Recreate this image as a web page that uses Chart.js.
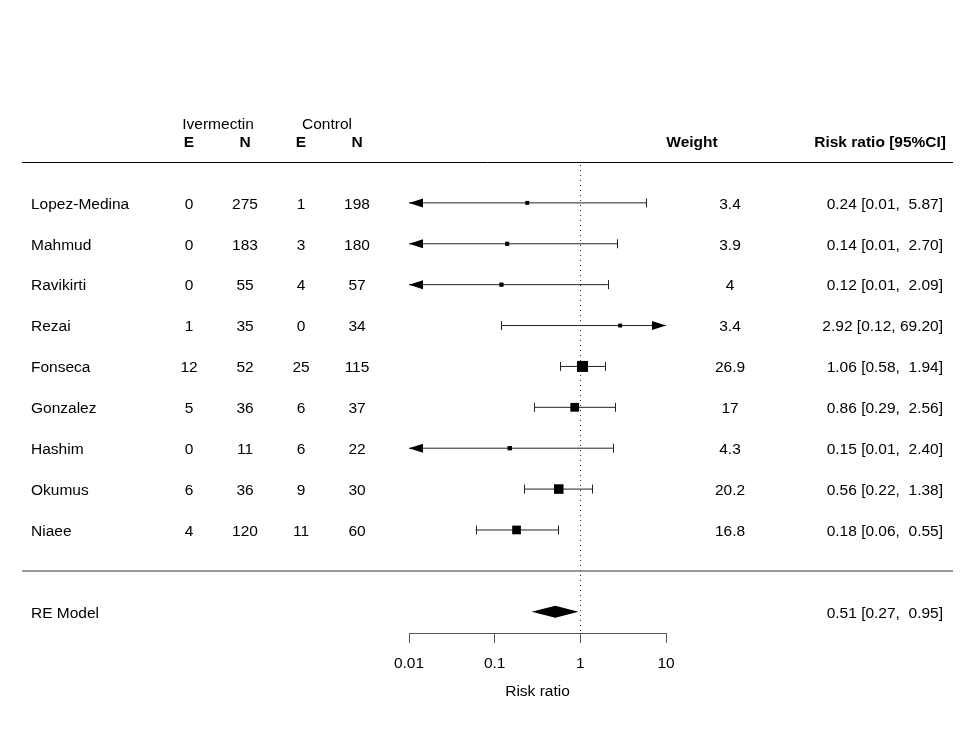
<!DOCTYPE html>
<html>
<head>
<meta charset="utf-8">
<title>Forest plot</title>
<script src="https://cdn.jsdelivr.net/npm/chart.js@4.4.1/dist/chart.umd.min.js"></script>
<style>
  html, body { margin: 0; padding: 0; background: #fff; }
  canvas { display: block; }
</style>
</head>
<body>
<canvas id="forest" width="975" height="731"></canvas>
<script>
// Study data
const studies = ['Lopez-Medina', 'Mahmud', 'Ravikirti', 'Rezai', 'Fonseca', 'Gonzalez', 'Hashim', 'Okumus', 'Niaee'];
const ivmE = [0, 0, 0, 1, 12, 5, 0, 6, 4];
const ivmN = [275, 183, 55, 35, 52, 36, 11, 36, 120];
const ctlE = [1, 3, 4, 0, 25, 6, 6, 9, 11];
const ctlN = [198, 180, 57, 34, 115, 37, 22, 30, 60];
const weights = [3.4, 3.9, 4, 3.4, 26.9, 17, 4.3, 20.2, 16.8];
const rr = [0.24, 0.14, 0.12, 2.92, 1.06, 0.86, 0.15, 0.56, 0.18];
const rrLo = [0.01, 0.01, 0.01, 0.12, 0.58, 0.29, 0.01, 0.22, 0.06];
const rrHi = [5.87, 2.70, 2.09, 69.20, 1.94, 2.56, 2.40, 1.38, 0.55];

// Pooled random-effects estimate
const reLabel = 'RE Model';
const reEst = 0.51, reLo = 0.27, reHi = 0.95;

// Axis ticks
const xTicks = [0.01, 0.1, 1, 10];
const xTickLabels = ['0.01', '0.1', '1', '10'];

const FONT = "'Liberation Sans', Arial, Helvetica, sans-serif";
const FS = 15.5;
const RE_ROW = studies.length + 1;

function fmtCI(est, lo, hi) {
  return est.toFixed(2) + ' [' + lo.toFixed(2) + ', ' + hi.toFixed(2).padStart(5, ' ') + ']';
}

const ciSets = studies.map((s, i) => ({
  type: 'line',
  data: [{ x: rrLo[i], y: i }, { x: rrHi[i], y: i }],
  borderColor: '#222',
  borderWidth: 1,
  pointRadius: 0,
  order: 2
}));

const forestDecor = {
  id: 'forestDecor',
  beforeDatasetsDraw(chart) {
    const { ctx, chartArea, scales: { x } } = chart;
    const px = x.getPixelForValue(1);
    ctx.save();
    ctx.strokeStyle = '#222';
    ctx.lineWidth = 1;
    ctx.setLineDash([1, 4]);
    ctx.beginPath();
    ctx.moveTo(Math.round(px) + 0.5, chartArea.top + 3);
    ctx.lineTo(Math.round(px) + 0.5, chartArea.bottom);
    ctx.stroke();
    ctx.restore();
  },
  afterDatasetsDraw(chart) {
    const { ctx, scales: { x, y } } = chart;
    const xmin = x.min, xmax = x.max;
    ctx.save();
    ctx.strokeStyle = '#222';
    ctx.fillStyle = '#000';
    ctx.lineWidth = 1;
    studies.forEach((s, i) => {
      const py = y.getPixelForValue(i);
      // lower end
      if (rrLo[i] <= xmin) {
        const p = x.getPixelForValue(xmin);
        ctx.beginPath();
        ctx.moveTo(p, py);
        ctx.lineTo(p + 14, py - 4.5);
        ctx.lineTo(p + 14, py + 4.5);
        ctx.closePath();
        ctx.fill();
      } else {
        const p = Math.round(x.getPixelForValue(rrLo[i])) + 0.5;
        ctx.beginPath();
        ctx.moveTo(p, py - 4.5);
        ctx.lineTo(p, py + 4.5);
        ctx.stroke();
      }
      // upper end
      if (rrHi[i] >= xmax) {
        const p = x.getPixelForValue(xmax);
        ctx.beginPath();
        ctx.moveTo(p, py);
        ctx.lineTo(p - 14, py - 4.5);
        ctx.lineTo(p - 14, py + 4.5);
        ctx.closePath();
        ctx.fill();
      } else {
        const p = Math.round(x.getPixelForValue(rrHi[i])) + 0.5;
        ctx.beginPath();
        ctx.moveTo(p, py - 4.5);
        ctx.lineTo(p, py + 4.5);
        ctx.stroke();
      }
    });
    // summary diamond
    const dy = y.getPixelForValue(RE_ROW);
    ctx.beginPath();
    ctx.moveTo(x.getPixelForValue(reLo), dy);
    ctx.lineTo(x.getPixelForValue(reEst), dy - 6);
    ctx.lineTo(x.getPixelForValue(reHi), dy);
    ctx.lineTo(x.getPixelForValue(reEst), dy + 6);
    ctx.closePath();
    ctx.fill();
    ctx.restore();
  },
  afterDraw(chart) {
    const { ctx, scales: { y } } = chart;
    const font = (b) => (b ? 'bold ' : '') + FS + 'px ' + FONT;
    const text = (t, px, row, align, bold) => {
      ctx.font = font(bold);
      ctx.textAlign = align;
      ctx.fillText(t, px, y.getPixelForValue(row) + 1.5);
    };
    ctx.save();
    ctx.fillStyle = '#000';
    ctx.textBaseline = 'middle';

    // header
    text('Ivermectin', 218, -1.95, 'center', false);
    text('Control', 327, -1.95, 'center', false);
    text('E', 189, -1.5, 'center', true);
    text('N', 245, -1.5, 'center', true);
    text('E', 301, -1.5, 'center', true);
    text('N', 357, -1.5, 'center', true);
    text('Weight', 692, -1.5, 'center', true);
    text('Risk ratio [95%CI]', 946, -1.5, 'right', true);

    // rows
    studies.forEach((s, i) => {
      text(s, 31, i, 'left');
      text(String(ivmE[i]), 189, i, 'center');
      text(String(ivmN[i]), 245, i, 'center');
      text(String(ctlE[i]), 301, i, 'center');
      text(String(ctlN[i]), 357, i, 'center');
      text(String(weights[i]), 730, i, 'center');
      text(fmtCI(rr[i], rrLo[i], rrHi[i]), 943, i, 'right');
    });
    text(reLabel, 31, RE_ROW, 'left');
    text(fmtCI(reEst, reLo, reHi), 943, RE_ROW, 'right');

    // rules
    const y1 = Math.round(y.getPixelForValue(-1)) + 0.5;
    ctx.strokeStyle = '#000';
    ctx.lineWidth = 1;
    ctx.beginPath();
    ctx.moveTo(22, y1);
    ctx.lineTo(953, y1);
    ctx.stroke();
    const y2 = Math.round(y.getPixelForValue(studies.length));
    ctx.strokeStyle = '#777';
    ctx.lineWidth = 1.6;
    ctx.beginPath();
    ctx.moveTo(22, y2);
    ctx.lineTo(953, y2);
    ctx.stroke();
    ctx.restore();
  }
};

new Chart(document.getElementById('forest'), {
  type: 'scatter',
  data: {
    datasets: [
      {
        data: rr.map((v, i) => ({ x: v, y: i })),
        pointStyle: 'rect',
        pointRadius: (c) => 1.5 * Math.sqrt(weights[c.dataIndex] || 1),
        pointHoverRadius: (c) => 1.5 * Math.sqrt(weights[c.dataIndex] || 1),
        backgroundColor: '#000',
        borderWidth: 0,
        order: 1
      },
      ...ciSets
    ]
  },
  options: {
    responsive: false,
    animation: false,
    layout: { padding: { top: 162, left: 409, right: 309, bottom: 0 } },
    plugins: {
      legend: { display: false },
      tooltip: { enabled: false }
    },
    scales: {
      x: {
        type: 'logarithmic',
        min: 0.01,
        max: 10,
        afterBuildTicks: (s) => { s.ticks = xTicks.map(v => ({ value: v })); },
        afterFit: (s) => { s.height = 98; },
        grid: { display: true, drawOnChartArea: false, drawTicks: true, tickLength: 10, color: '#555' },
        border: { display: true, color: '#555', width: 1 },
        ticks: {
          autoSkip: false,
          maxRotation: 0,
          padding: 11,
          color: '#000',
          font: { family: FONT, size: FS },
          callback: (v, i) => xTickLabels[i]
        },
        title: {
          display: true,
          text: 'Risk ratio',
          color: '#000',
          font: { family: FONT, size: FS },
          padding: { top: 0, bottom: 30 }
        }
      },
      y: {
        display: false,
        reverse: true,
        min: -1,
        max: 10.52
      }
    }
  },
  plugins: [forestDecor]
});
</script>
</body>
</html>
